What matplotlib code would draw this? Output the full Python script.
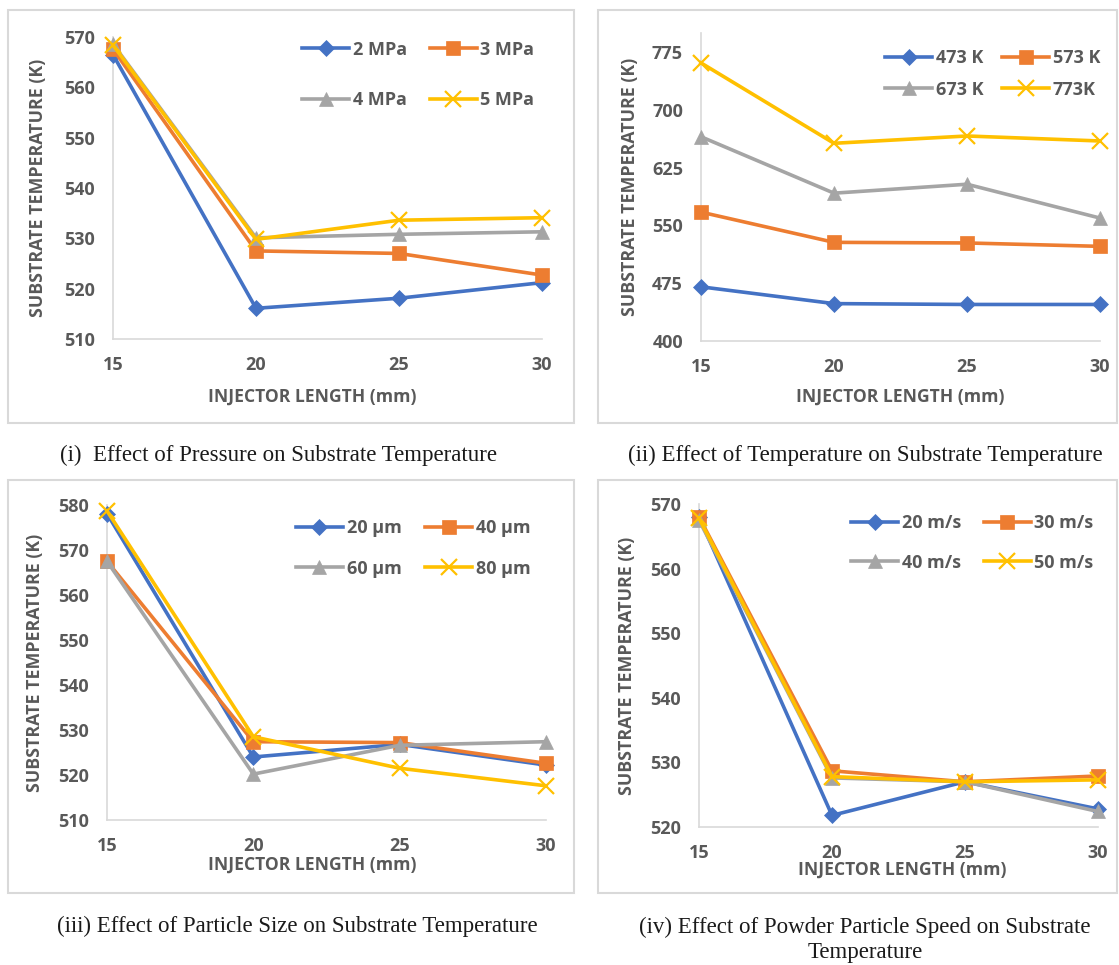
import matplotlib
matplotlib.use("Agg")
import matplotlib.pyplot as plt
from matplotlib.patches import Rectangle

# ---------------- data ----------------
injector_length = [15, 20, 25, 30]

pressure_labels = ["2 MPa", "3 MPa", "4 MPa", "5 MPa"]
p_2mpa = [566.5, 516.1, 518.1, 521.2]
p_3mpa = [567.6, 527.5, 527.0, 522.7]
p_4mpa = [568.6, 530.1, 530.8, 531.3]
p_5mpa = [568.4, 529.8, 533.6, 534.1]

temperature_labels = ["473 K", "573 K", "673 K", "773K"]
t_473 = [470.3, 448.5, 447.4, 447.4]
t_573 = [567.2, 528.0, 527.2, 522.8]
t_673 = [665.0, 591.8, 603.4, 559.5]
t_773 = [760.8, 656.5, 666.0, 659.5]

size_labels = ["20 µm", "40 µm", "60 µm", "80 µm"]
s_20 = [578.1, 524.0, 526.8, 522.2]
s_40 = [567.5, 527.4, 527.2, 522.6]
s_60 = [567.5, 520.2, 526.6, 527.4]
s_80 = [578.7, 528.5, 521.5, 517.6]

speed_labels = ["20 m/s", "30 m/s", "40 m/s", "50 m/s"]
v_20 = [568.0, 521.8, 527.0, 522.8]
v_30 = [568.0, 528.7, 527.0, 527.9]
v_40 = [567.5, 527.6, 527.0, 522.4]
v_50 = [567.8, 527.8, 527.0, 527.3]

captions = [
    "(i)  Effect of Pressure on Substrate Temperature",
    "(ii) Effect of Temperature on Substrate Temperature",
    "(iii) Effect of Particle Size on Substrate Temperature",
    "(iv) Effect of Powder Particle Speed on Substrate\nTemperature",
]

# ---------------- style ----------------
W, H = 1119, 965
fig = plt.figure(figsize=(W / 100, H / 100), dpi=100)
FONT = "Open Sans"
GRAY = "#595959"
SPINE = "#D9D9D9"
colors = ["#4472C4", "#ED7D31", "#A5A5A5", "#FFC000"]
markers = ["D", "s", "^", "x"]
msizes = [8, 10, 10, 11]


def fx(px):
    return px / W


def fy(py):
    return 1 - py / H


def add_box(l, t, r, b):
    fig.add_artist(Rectangle((fx(l), fy(b)), fx(r) - fx(l), fy(t) - fy(b),
                             transform=fig.transFigure, fill=False,
                             ec=SPINE, lw=1.5))


panels = [
    dict(series=[p_2mpa, p_3mpa, p_4mpa, p_5mpa], labels=pressure_labels,
         box=(8, 10, 574, 423), ax=(113, 37, 542, 339), ylim=(510, 570),
         yticks=[510, 520, 530, 540, 550, 560, 570],
         ylab_x=38, xlab=(312, 397), leg=(302, 75, 51, 23), cap=(279, 455)),
    dict(series=[t_473, t_573, t_673, t_773], labels=temperature_labels,
         box=(598, 10, 1117, 423), ax=(701, 32.7, 1100, 341), ylim=(400, 800),
         yticks=[400, 475, 550, 625, 700, 775],
         ylab_x=630, xlab=(900, 397), leg=(885, 74, 32, 19), cap=(865, 455)),
    dict(series=[s_20, s_40, s_60, s_80], labels=size_labels,
         box=(8, 480, 574, 893), ax=(107, 505, 546, 820), ylim=(510, 580),
         yticks=[510, 520, 530, 540, 550, 560, 570, 580],
         ylab_x=35, xlab=(312, 865), leg=(296, 548.5, 41, 24), cap=(297, 926)),
    dict(series=[v_20, v_30, v_40, v_50], labels=speed_labels,
         box=(598, 480, 1117, 893), ax=(699, 504, 1098, 827), ylim=(520, 570),
         yticks=[520, 530, 540, 550, 560, 570],
         ylab_x=627, xlab=(902, 870), leg=(851, 543, 40, 23), cap=(865, 940)),
]

LEG_FS = 13
LEG_PX = LEG_FS * 100 / 72
TXT_H = 18.5  # approx legend text row height in px

for p in panels:
    add_box(*p["box"])
    l, t, r, b = p["ax"]
    ax = fig.add_axes([fx(l), fy(b), fx(r) - fx(l), fy(t) - fy(b)])
    handles = []
    for i, ys in enumerate(p["series"]):
        (h,) = ax.plot(injector_length, ys, color=colors[i], lw=2.6,
                       marker=markers[i], ms=msizes[i],
                       mew=1.6 if markers[i] == "x" else 0.5,
                       mec=colors[i], mfc=colors[i], label=p["labels"][i],
                       zorder=3 + i, clip_on=False)
        handles.append(h)
    ax.set_xlim(15, 30)
    ax.set_ylim(*p["ylim"])
    ax.set_xticks(injector_length)
    ax.set_xticklabels([str(v) for v in injector_length])
    ax.set_yticks(p["yticks"])
    ax.set_facecolor("none")
    for s in ["top", "right"]:
        ax.spines[s].set_visible(False)
    for s in ["left", "bottom"]:
        ax.spines[s].set_color(SPINE)
        ax.spines[s].set_linewidth(1.2)
    ax.tick_params(length=0, colors=GRAY, labelsize=13)
    ax.tick_params(axis="y", pad=13)
    ax.tick_params(axis="x", pad=12.5)
    for lab in ax.get_xticklabels() + ax.get_yticklabels():
        lab.set_fontfamily(FONT)
        lab.set_fontweight("bold")

    # axis titles (figure coords)
    fig.text(fx(p["ylab_x"]), fy((t + b) / 2), "SUBSTRATE TEMPERATURE (K)",
             rotation=90, ha="center", va="center", color=GRAY,
             fontsize=12.8, fontweight="bold", family=FONT)
    fig.text(fx(p["xlab"][0]), fy(p["xlab"][1]), "INJECTOR LENGTH (mm)",
             ha="center", va="center", color=GRAY, fontsize=12.6,
             fontweight="bold", family=FONT)

    hx, hy, rowsp, colsp = p["leg"]
    labelspacing = (rowsp - TXT_H) / LEG_PX
    # legend filled row-wise like the original (2 columns)
    order = [0, 2, 1, 3]
    leg = ax.legend(handles=[handles[k] for k in order], ncol=2, frameon=False,
                    loc="center left",
                    bbox_to_anchor=(fx(hx), fy(hy)),
                    bbox_transform=fig.transFigure,
                    borderpad=0, borderaxespad=0,
                    handlelength=47 / LEG_PX, handletextpad=0.2,
                    columnspacing=colsp / LEG_PX,
                    labelspacing=labelspacing,
                    prop={"family": FONT, "weight": "bold", "size": LEG_FS})
    for txt in leg.get_texts():
        txt.set_color(GRAY)

for p, cap in zip(panels, captions):
    fig.text(fx(p["cap"][0]), fy(p["cap"][1]), cap, ha="center", va="center",
             family="Liberation Serif", fontsize=16.5, color="#1a1a1a",
             linespacing=1.25)

fig.savefig("out.png", dpi=100, facecolor="white")
